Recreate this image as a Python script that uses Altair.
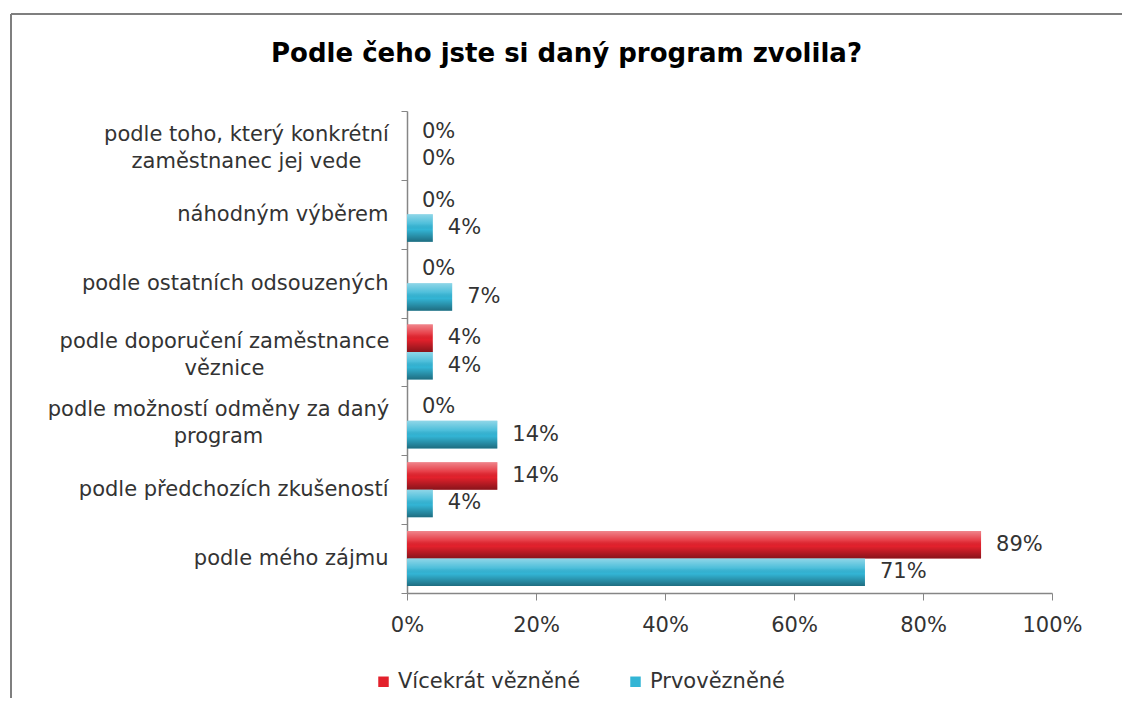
import altair as alt
import pandas as pd

# ---- data ----
categories = [
    ["podle toho, který konkrétní", "zaměstnanec jej vede"],
    ["náhodným výběrem"],
    ["podle ostatních odsouzených"],
    ["podle doporučení zaměstnance", "věznice"],
    ["podle možností odměny za daný", "program"],
    ["podle předchozích zkušeností"],
    ["podle mého zájmu"],
]
series = ["Vícekrát vězněné", "Prvovězněné"]
vicekrat = [0, 0, 0, 4, 0, 14, 89]
prvo = [0, 4, 7, 4, 14, 4, 71]
colors = ["#e3212c", "#33b5d5"]
x_ticks = [0, 20, 40, 60, 80, 100]
title_text = "Podle čeho jste si daný program zvolila?"

rows = []
for cat, a, b in zip(categories, vicekrat, prvo):
    name = "|".join(cat)
    rows.append({"kategorie": name, "skupina": series[0], "hodnota": a})
    rows.append({"kategorie": name, "skupina": series[1], "hodnota": b})
df = pd.DataFrame(rows)
cat_order = ["|".join(c) for c in categories]

FONT = "DejaVu Sans"
GRAY = "#868686"
FS = 21

# multi-line labels are centred as a block (like the reference); padding = half block width
multi_pad = {cat_order[0]: 155, cat_order[3]: 177, cat_order[4]: 183}
pad_cond = [{"test": f"datum.value === '{k}'", "value": v} for k, v in multi_pad.items()]
multi_test = " || ".join(f"datum.value === '{k}'" for k in multi_pad)

y_enc = alt.Y(
    "kategorie:N",
    sort=cat_order,
    scale=alt.Scale(paddingInner=0, paddingOuter=0),
    axis=alt.Axis(
        title=None,
        labelExpr="split(datum.label, '|')",
        labelAlign={"condition": {"test": multi_test, "value": "center"}, "value": "right"},
        labelBaseline="middle",
        labelPadding={"condition": pad_cond, "value": 13},
        labelOffset={"condition": {"test": multi_test, "value": -11}, "value": 0},
        labelLineHeight=27,
        tickSize=6,
        tickBand="extent",
        labelLimit=420,
    ),
)
yoff = alt.YOffset("skupina:N", sort=series,
                   scale=alt.Scale(paddingInner=0, paddingOuter=0.25))
x_enc = alt.X(
    "hodnota:Q",
    scale=alt.Scale(domain=[0, 100]),
    axis=alt.Axis(
        title=None,
        values=x_ticks,
        labelExpr="datum.value + '%'",
        labelFlush=False,
        tickSize=7,
        labelPadding=14,
        grid=False,
    ),
)

base = alt.Chart(df)

bars = base.mark_bar().encode(
    x=x_enc,
    y=y_enc,
    yOffset=yoff,
    color=alt.Color(
        "skupina:N",
        sort=series,
        scale=alt.Scale(domain=series, range=colors),
        legend=alt.Legend(
            orient="none",
            legendX=-34,
            legendY=560,
            direction="horizontal",
            title=None,
            symbolType="square",
            symbolSize=110,
            symbolStrokeWidth=0,
            labelFontSize=FS,
            labelFont=FONT,
            labelColor="#333333",
            labelLimit=400,
            columnPadding=44,
        ),
    ),
)

sheen = base.mark_bar(
    fill=alt.Gradient(
        gradient="linear", x1=0, x2=0, y1=0, y2=1,
        stops=[
            alt.GradientStop(color="rgba(255,255,255,0.45)", offset=0),
            alt.GradientStop(color="rgba(255,255,255,0.12)", offset=0.35),
            alt.GradientStop(color="rgba(0,0,0,0)", offset=0.55),
            alt.GradientStop(color="rgba(0,0,0,0.40)", offset=1),
        ],
    )
).encode(x="hodnota:Q", y=alt.Y("kategorie:N", sort=cat_order), yOffset=yoff)

labels = base.transform_calculate(
    txt="datum.hodnota + '%'"
).mark_text(
    align="left", baseline="middle", dx=15, font=FONT, fontSize=FS, color="#333333"
).encode(x="hodnota:Q", y=alt.Y("kategorie:N", sort=cat_order), yOffset=yoff, text="txt:N")

frame_data = alt.Data(values=[{"k": 1}])
top_line = alt.Chart(frame_data).mark_rule(color="#7f7f7f", strokeWidth=2).encode(
    x=alt.value(-396), x2=alt.value(760), y=alt.value(-97)
)
left_line = alt.Chart(frame_data).mark_rule(color="#7f7f7f", strokeWidth=2).encode(
    x=alt.value(-396), y=alt.value(-97), y2=alt.value(700)
)

chart = alt.layer(bars, sheen, labels, top_line, left_line).properties(
    width=645,
    height=482,
    title=alt.TitleParams(
        text=title_text,
        font=FONT,
        fontSize=26,
        fontWeight="bold",
        color="black",
        anchor="middle",
        frame="group",
        dx=-163,
        offset=-54,
    ),
    autosize=alt.AutoSizeParams(type="none"),
    padding={"left": 399, "top": 103, "right": 70, "bottom": 105},
).configure_view(stroke=None).configure_axis(
    labelFont=FONT,
    labelFontSize=FS,
    labelColor="#333333",
    domainColor=GRAY,
    tickColor=GRAY,
    domainWidth=1.5,
)

chart.save("out.html", embed_options={"renderer": "svg", "actions": False})
